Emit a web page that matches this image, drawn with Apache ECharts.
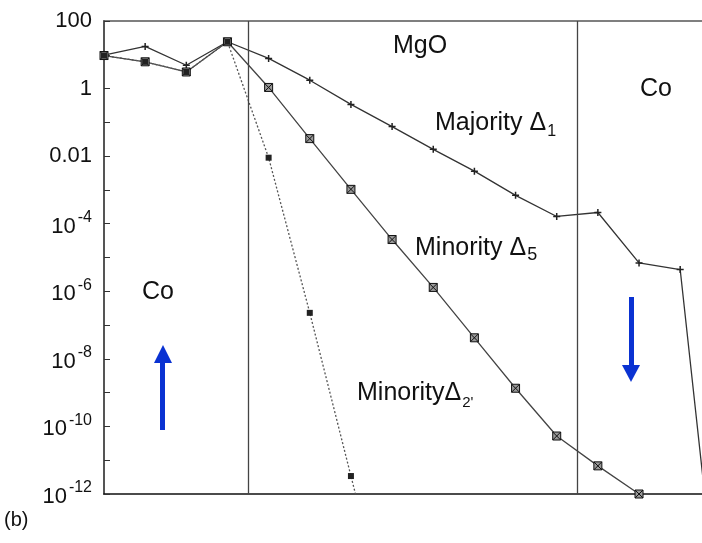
<!DOCTYPE html>
<html>
<head>
<meta charset="utf-8">
<script src="https://cdn.jsdelivr.net/npm/echarts@6/dist/echarts.min.js"></script>
<style>
  html, body { margin: 0; padding: 0; background: #fff; }
  #chart { width: 702px; height: 543px; }
</style>
</head>
<body>
<div id="chart"></div>
<script>
// layer index along the stack (Co | MgO | Co)
const layers = [0, 1, 2, 3, 4, 5, 6, 7, 8, 9, 10, 11, 12, 13, 14, 15];
const majorityD1 = [9.8, 17.7, 4.9, 24.3, 7.8, 1.77, 0.34, 0.075, 0.0159, 0.0036, 6.9e-4, 1.64e-4, 2.15e-4, 6.9e-6, 4.4e-6, 3e-17];
const minorityD5 = [9.5, 6.2, 3.1, 24.3, 1.08, 0.033, 1.04e-3, 3.4e-5, 1.3e-6, 4.2e-8, 1.35e-9, 5.2e-11, 6.8e-12, 1.0e-12];
const minorityD2 = [9.5, 6.2, 3.1, 24.3, 9.0e-3, 2.3e-7, 3.4e-12, 5e-17];
const interfaces = [3.5, 11.5];
const yTickLabels = ['100', '1', '0.01', '10^-4', '10^-6', '10^-8', '10^-10', '10^-12'];

const FONT = 'Liberation Sans';
const chart = echarts.init(document.getElementById('chart'));

const toPoints = arr => arr.map((v, i) => [layers[i], v]);

function yLabel(value) {
  const e = Math.round(Math.log10(value));
  if (e % 2 !== 0) return '';
  const txt = yTickLabels[(2 - e) / 2];
  if (!txt) return '';
  if (txt.indexOf('^') < 0) return txt;
  const parts = txt.split('^');
  return '{b|' + parts[0] + '}{s|' + parts[1] + '}';
}

const plusSymbol = 'path://M0,5L10,5M5,0L5,10';
const boxSymbol = 'path://M0,0L10,0L10,10L0,10Z M0,0L10,10 M10,0L0,10';

const option = {
  animation: false,
  grid: { left: 104, top: 21, right: 0, bottom: 49 },
  xAxis: [
    {
      type: 'value',
      min: 0,
      max: 14.53,
      axisLine: { show: true, onZero: false, lineStyle: { color: '#111', width: 1.5 } },
      axisTick: { show: false },
      axisLabel: { show: false },
      splitLine: { show: false }
    },
    {
      type: 'value',
      position: 'top',
      min: 0,
      max: 14.53,
      axisLine: { show: true, onZero: false, lineStyle: { color: '#555', width: 1.5 } },
      axisTick: { show: false },
      axisLabel: { show: false },
      splitLine: { show: false }
    }
  ],
  yAxis: {
    type: 'log',
    logBase: 10,
    min: 1e-12,
    max: 100,
    interval: 1,
    axisLine: { show: true, lineStyle: { color: '#555', width: 2 } },
    axisTick: { show: true, inside: true, length: 6, lineStyle: { color: '#333' } },
    splitLine: { show: false },
    axisLabel: {
      margin: 12,
      color: '#111',
      fontFamily: FONT,
      fontSize: 22,
      formatter: yLabel,
      rich: {
        b: { fontFamily: FONT, fontSize: 22, color: '#111', verticalAlign: 'bottom' },
        s: { fontFamily: FONT, fontSize: 16, color: '#111', verticalAlign: 'top', padding: [0, 0, 12, 2] }
      }
    }
  },
  series: [
    {
      name: 'Majority D1',
      type: 'line',
      data: toPoints(majorityD1),
      symbol: plusSymbol,
      symbolSize: 7,
      itemStyle: { color: 'none', borderColor: '#222', borderWidth: 1.5 },
      lineStyle: { color: '#333', width: 1.3 },
      markLine: {
        silent: true,
        symbol: 'none',
        label: { show: false },
        lineStyle: { color: '#444', width: 1.3, type: 'solid' },
        data: interfaces.map(x => ({ xAxis: x }))
      }
    },
    {
      name: 'Minority D5',
      type: 'line',
      data: toPoints(minorityD5),
      symbol: boxSymbol,
      symbolSize: 8,
      itemStyle: { color: '#999', borderColor: '#111', borderWidth: 1 },
      lineStyle: { color: '#444', width: 1.3 }
    },
    {
      name: 'Minority D2p',
      type: 'line',
      data: toPoints(minorityD2),
      symbol: 'rect',
      symbolSize: 6,
      itemStyle: { color: '#222' },
      lineStyle: { color: '#555', width: 1.3, type: [2, 2] }
    }
  ],
  graphic: [
    { type: 'text', left: 393, top: 34, style: { text: 'MgO', fill: '#111', font: '25px "Liberation Sans"' } },
    { type: 'text', left: 640, top: 77, style: { text: 'Co', fill: '#111', font: '25px "Liberation Sans"' } },
    { type: 'text', left: 142, top: 280, style: { text: 'Co', fill: '#111', font: '25px "Liberation Sans"' } },
    {
      type: 'text', left: 435, top: 111,
      style: {
        text: '{m|Majority Δ}{s|1}',
        rich: {
          m: { fontFamily: FONT, fontSize: 25, fill: '#111', lineHeight: 28, verticalAlign: 'top' },
          s: { fontFamily: FONT, fontSize: 16, fill: '#111', lineHeight: 16, verticalAlign: 'top', padding: [13, 0, 0, 1] }
        }
      }
    },
    {
      type: 'text', left: 415, top: 236,
      style: {
        text: '{m|Minority Δ}{s|5}',
        rich: {
          m: { fontFamily: FONT, fontSize: 25, fill: '#111', lineHeight: 28, verticalAlign: 'top' },
          s: { fontFamily: FONT, fontSize: 18, fill: '#111', lineHeight: 18, verticalAlign: 'top', padding: [10, 0, 0, 1] }
        }
      }
    },
    {
      type: 'text', left: 357, top: 381,
      style: {
        text: "{m|MinorityΔ}{s|2'}",
        rich: {
          m: { fontFamily: FONT, fontSize: 25, fill: '#111', lineHeight: 28, verticalAlign: 'top' },
          s: { fontFamily: FONT, fontSize: 15, fill: '#111', lineHeight: 15, verticalAlign: 'top', padding: [14, 0, 0, 1] }
        }
      }
    },
    { type: 'text', left: 4, top: 510, style: { text: '(b)', fill: '#111', font: '20px "Liberation Sans"' } },
    // spin arrows
    { type: 'rect', shape: { x: 160, y: 360, width: 5, height: 70 }, style: { fill: '#0a32d2' } },
    { type: 'polygon', shape: { points: [[154, 363], [172, 363], [163, 345]] }, style: { fill: '#0a32d2' } },
    { type: 'rect', shape: { x: 629, y: 297, width: 5, height: 70 }, style: { fill: '#0a32d2' } },
    { type: 'polygon', shape: { points: [[622, 365], [640, 365], [631, 382]] }, style: { fill: '#0a32d2' } }
  ]
};

chart.setOption(option);
</script>
</body>
</html>
